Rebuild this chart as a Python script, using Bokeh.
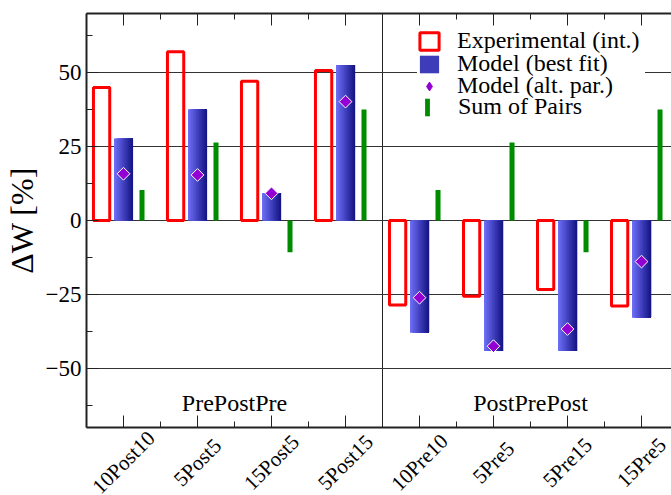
import numpy as np
from bokeh.plotting import figure
from bokeh.layouts import column
from bokeh.models import (ColumnDataSource, FixedTicker, LinearAxis, Range1d,
                          Legend, LegendItem, LabelSet)
from bokeh.core.properties import value
from bokeh.embed import file_html
from bokeh.resources import INLINE

# ---------------- data ----------------
categories = ["10Post10", "5Post5", "15Post5", "5Post15",
              "10Pre10", "5Pre5", "5Pre15", "15Pre5"]
groups = ["PrePostPre", "PostPrePost"]
experimental = [45.0, 57.1, 47.1, 50.7, -28.6, -25.6, -23.3, -28.9]
model_best = [27.7, 37.6, 9.3, 52.6, -38.0, -44.1, -44.1, -32.9]
model_alt = [15.8, 15.4, 9.2, 40.2, -26.1, -42.5, -36.7, -13.9]
sum_of_pairs = [10.3, 26.4, -10.7, 37.5, 10.3, 26.4, -10.7, 37.5]
y_ticks = [-50, -25, 0, 25, 50]
series_labels = ["Experimental (int.)", "Model (best fit)",
                 "Model (alt. par.)", "Sum of Pairs"]

# ---------------- style / layout ----------------
FONT = "Liberation Serif, Times New Roman, serif"
RED = "#ff0000"
GREEN = "#008c00"
PURPLE = "#9400d3"
AXIS_COLOR = "#222222"
BLUE_LIGHT = np.array([108, 108, 245])
BLUE_DARK = np.array([22, 22, 135])
N_STRIPS = 12

W, H = 671, 495
LEFT, TOP = 86, 13
AXIS_BOTTOM_PX = 427          # frame bottom / x axis position on the page
MAIN_BOTTOM_BORDER = 2
H_MAIN = AXIS_BOTTOM_PX + MAIN_BOTTOM_BORDER
H_LAB = H - H_MAIN            # strip with the rotated category labels
Y0, Y1 = -70, 70
X1 = 7.905

n = len(categories)
centers = np.arange(n) + 0.5
boundaries = list(range(n + 1))
minor_y = [-62.5, -37.5, -12.5, 12.5, 37.5, 62.5]
ppy = (AXIS_BOTTOM_PX - TOP) / (Y1 - Y0)

p = figure(width=W, height=H_MAIN,
           x_range=Range1d(0, X1), y_range=Range1d(Y0, Y1),
           output_backend="svg", toolbar_location=None,
           min_border_left=LEFT, min_border_top=TOP,
           min_border_bottom=MAIN_BOTTOM_BORDER, min_border_right=0)
p.outline_line_color = None
p.background_fill_color = "white"

# grids
p.ygrid.ticker = FixedTicker(ticks=y_ticks)
p.ygrid.grid_line_color = "#333333"
p.ygrid.grid_line_width = 1
p.xgrid.ticker = FixedTicker(ticks=[n // 2])
p.xgrid.grid_line_color = AXIS_COLOR
p.xgrid.grid_line_width = 1

def style_ticks(ax):
    ax.ticker = FixedTicker(ticks=list(centers), minor_ticks=boundaries)
    ax.major_tick_in = 12
    ax.major_tick_out = 0
    ax.minor_tick_in = 6
    ax.minor_tick_out = 0
    ax.axis_line_width = 2
    ax.axis_line_color = AXIS_COLOR
    ax.major_tick_line_color = AXIS_COLOR
    ax.minor_tick_line_color = AXIS_COLOR

# bottom x axis: ticks and rule (its labels are drawn in the strip below)
bx = p.xaxis[0]
style_ticks(bx)
bx.major_label_overrides = {float(c): "" for c in centers}
bx.major_label_text_font_size = "1px"
bx.major_label_standoff = 0

# top x axis: ticks only
top_axis = LinearAxis()
style_ticks(top_axis)
top_axis.major_label_text_color = None
p.add_layout(top_axis, "above")

ya = p.yaxis[0]
ya.ticker = FixedTicker(ticks=y_ticks, minor_ticks=minor_y)
ya.major_tick_in = 12
ya.major_tick_out = 0
ya.minor_tick_in = 6
ya.minor_tick_out = 0
ya.axis_line_width = 2
ya.axis_line_color = AXIS_COLOR
ya.major_tick_line_color = AXIS_COLOR
ya.minor_tick_line_color = AXIS_COLOR
ya.major_label_text_font = FONT
ya.major_label_text_font_size = "23px"
ya.major_label_text_color = "black"
ya.major_label_standoff = 5
ya.axis_label = "ΔW [%]"
ya.axis_label_text_font = FONT
ya.axis_label_text_font_size = "32px"
ya.axis_label_text_font_style = "normal"
ya.axis_label_text_color = "black"
ya.axis_label_standoff = 3

# experimental (hollow red boxes)
red_src = ColumnDataSource(dict(x=centers - 0.296, top=experimental))
r_exp = p.vbar(x="x", top="top", bottom=0, width=0.22, source=red_src,
               fill_color=None, line_color=RED, line_width=3)

# model best fit: horizontal gradient built from strips
bar_w = 0.257
blue_renderers = []
for k in range(N_STRIPS):
    frac = k / (N_STRIPS - 1)
    col = BLUE_LIGHT + (BLUE_DARK - BLUE_LIGHT) * frac
    colhex = "#%02x%02x%02x" % tuple(int(round(c)) for c in col)
    left = centers - bar_w / 2 + k * bar_w / N_STRIPS
    right = centers + bar_w / 2
    src = ColumnDataSource(dict(x=(left + right) / 2, w=right - left, top=model_best))
    r = p.vbar(x="x", top="top", bottom=0, width="w", source=src,
               fill_color=colhex, line_color=None)
    blue_renderers.append(r)

# sum of pairs (thin green bars)
green_src = ColumnDataSource(dict(x=centers + 0.25, top=sum_of_pairs))
r_sum = p.vbar(x="x", top="top", bottom=0, width=0.068, source=green_src,
               fill_color=GREEN, line_color=None)

# model alt par.: rotated squares; a smaller diamond underneath serves the legend
alt_src = ColumnDataSource(dict(x=centers, y=model_alt))
r_alt_legend = p.scatter(x="x", y="y", source=alt_src, marker="diamond", size=8,
                         fill_color=PURPLE, line_color=PURPLE)
r_alt_plot = p.scatter(x="x", y="y", source=alt_src, marker="square", size=9,
                       angle=np.pi / 4, fill_color=PURPLE, line_color="white",
                       line_width=1)

# group labels
grp_src = ColumnDataSource(dict(x=[n / 4, 3 * n / 4], y=[-61.8, -61.8], text=groups))
p.text(x="x", y="y", text="text", source=grp_src, text_align="center",
       text_baseline="alphabetic", text_font=value(FONT),
       text_font_size="24px", text_color="black")

# legends: one per row so the rows can sit closer than the text height
def make_legend(label, renderer, vy, glyph_w, vx, standoff, white=False):
    return Legend(items=[LegendItem(label=label, renderers=[renderer])],
                  location=(vx, vy), glyph_width=glyph_w, glyph_height=22,
                  label_height=22, label_width=188 if white else 20,
                  spacing=0, padding=5, margin=0,
                  label_standoff=standoff, label_text_font=FONT,
                  label_text_font_size="24px", label_text_color="black",
                  border_line_color=None,
                  background_fill_color="white" if white else None,
                  background_fill_alpha=1.0 if white else 0.0)

p.add_layout(make_legend(series_labels[1], blue_renderers[N_STRIPS // 2], 350, 24, 331, 16, white=True))
p.add_layout(make_legend(series_labels[0], r_exp, 373, 24, 331, 16))
p.add_layout(make_legend(series_labels[2], r_alt_legend, 328, 24, 331, 16))
p.add_layout(make_legend(series_labels[3], r_sum, 307, 6, 338, 28))

# strip below: same x scale, y scale continued below the axis
p2 = figure(width=W, height=H_LAB, x_range=p.x_range,
            y_range=Range1d(Y0 - (H - AXIS_BOTTOM_PX) / ppy,
                            Y0 - MAIN_BOTTOM_BORDER / ppy),
            x_axis_type=None, y_axis_type=None,
            output_backend="svg", toolbar_location=None,
            min_border=0, min_border_left=LEFT, min_border_right=0,
            min_border_top=0, min_border_bottom=0)
p2.outline_line_color = None
p2.grid.visible = False
cat_src = ColumnDataSource(dict(x=centers, y=[-81.8] * n, text=categories))
p2.add_layout(LabelSet(x="x", y="y", text="text", source=cat_src,
                       angle=45, angle_units="deg",
                       text_align="center", text_baseline="middle",
                       text_font=value(FONT), text_font_size="21px",
                       text_color="black"))

layout = column(p, p2, spacing=0)
open("out.html", "w").write(file_html(layout, INLINE))
